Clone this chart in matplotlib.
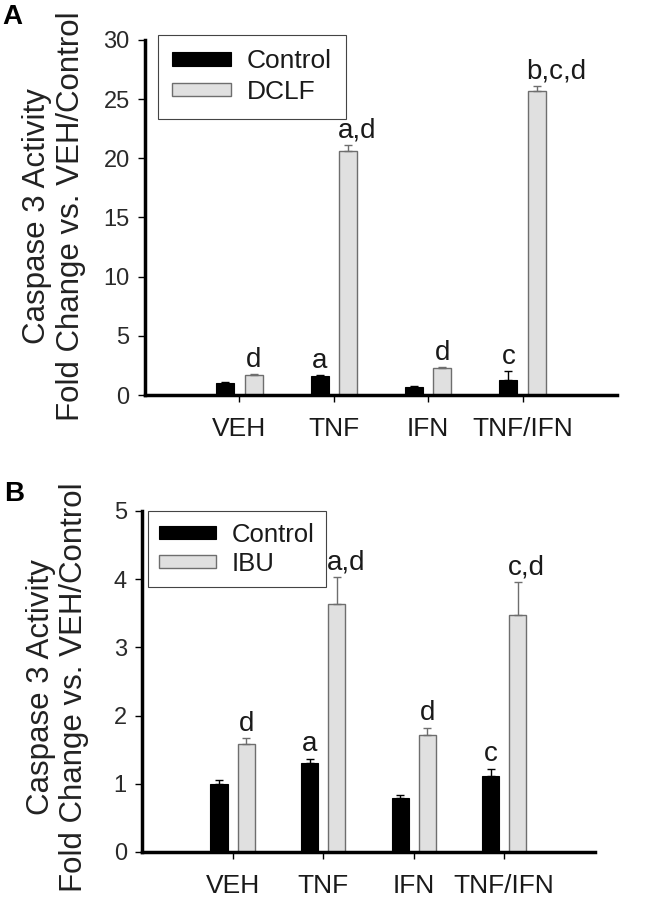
import matplotlib.pyplot as plt
import numpy as np

plt.rcParams['font.family'] = ['Liberation Sans', 'DejaVu Sans']

categories = ['VEH', 'TNF', 'IFN', 'TNF/IFN']

# panel A: DCLF
ctrl_a = [1.0, 1.6, 0.7, 1.3]
ctrl_a_err = [0.08, 0.1, 0.06, 0.7]
dclf_a = [1.7, 20.6, 2.3, 25.7]
dclf_a_err = [0.05, 0.5, 0.06, 0.4]
ctrl_a_lbl = ['', 'a', '', 'c']
dclf_a_lbl = ['d', 'a,d', 'd', 'b,c,d']

# panel B: IBU
ctrl_b = [1.0, 1.30, 0.79, 1.11]
ctrl_b_err = [0.05, 0.07, 0.04, 0.11]
ibu_b = [1.58, 3.63, 1.71, 3.47]
ibu_b_err = [0.09, 0.40, 0.11, 0.49]
ctrl_b_lbl = ['', 'a', '', 'c']
ibu_b_lbl = ['d', 'a,d', 'd', 'c,d']

grey = '#e0e0e0'
edge = '#6e6e6e'
txt = '#1a1a1a'


def draw_panel(ax, ctrl, ctrl_err, drug, drug_err, ctrl_lbl, drug_lbl, drug_name, ymax, step):
    x = np.arange(1, len(categories) + 1)
    w = 0.19
    off = 0.15
    zeros = np.zeros(len(x))
    ax.bar(x - off, ctrl, w, color='black', edgecolor='black', linewidth=0.8,
           yerr=[zeros, ctrl_err], error_kw=dict(ecolor='black', elinewidth=1, capsize=3, capthick=1),
           label='Control', zorder=2)
    ax.bar(x + off, drug, w, color=grey, edgecolor=edge, linewidth=1,
           yerr=[zeros, drug_err], error_kw=dict(ecolor=edge, elinewidth=1, capsize=3, capthick=1),
           label=drug_name, zorder=2)

    # significance letters
    for xi, v, e, s in zip(x - off, ctrl, ctrl_err, ctrl_lbl):
        if s:
            ax.annotate(s, (xi, v + e), xytext=(0, 1), textcoords='offset points',
                        ha='center', va='bottom', fontsize=20, color=txt)
    for xi, v, e, s in zip(x + off, drug, drug_err, drug_lbl):
        if s:
            if len(s) > 1:
                ax.annotate(s, (xi - w / 2, v + e), xytext=(-1, 1), textcoords='offset points',
                            ha='left', va='bottom', fontsize=20, color=txt)
            else:
                ax.annotate(s, (xi, v + e), xytext=(0, 1), textcoords='offset points',
                            ha='center', va='bottom', fontsize=20, color=txt)

    ax.set_xlim(0, 5)
    ax.set_ylim(0, ymax)
    ax.set_yticks(np.arange(0, ymax + step / 2, step))
    ax.set_xticks(x)
    ax.set_xticklabels(categories, fontsize=19, color=txt)
    ax.tick_params(axis='x', length=5, width=1, pad=11)
    ax.tick_params(axis='y', length=5, width=1, labelsize=17, labelcolor='#2a2a2a', pad=6)
    for s in ['top', 'right']:
        ax.spines[s].set_visible(False)
    ax.spines['left'].set_linewidth(2.5)
    ax.spines['bottom'].set_linewidth(2.5)


def add_legend(ax, anchor, fs, bpad, lspace):
    leg = ax.legend(loc='upper left', bbox_to_anchor=anchor, borderaxespad=0,
                    fontsize=fs, handlelength=2.2, handleheight=0.4, handletextpad=0.6,
                    fancybox=False, edgecolor='#444444', framealpha=1,
                    labelspacing=lspace, borderpad=bpad)
    leg.get_frame().set_linewidth(0.8)
    for t in leg.get_texts():
        t.set_color(txt)


fig = plt.figure(figsize=(6.6, 8.99), dpi=100)

ax_a = fig.add_axes([0.2197, 0.5606, 0.715, 0.395])
draw_panel(ax_a, ctrl_a, ctrl_a_err, dclf_a, dclf_a_err, ctrl_a_lbl, dclf_a_lbl, 'DCLF', 30, 5)
add_legend(ax_a, (0.0275, 1.014), 19, 0.55, 0.25)

ax_b = fig.add_axes([0.2152, 0.0523, 0.686, 0.3793])
draw_panel(ax_b, ctrl_b, ctrl_b_err, ibu_b, ibu_b_err, ctrl_b_lbl, ibu_b_lbl, 'IBU', 5, 1)
add_legend(ax_b, (0.013, 1.0), 18.5, 0.45, 0.2)

ylab = 'Caspase 3 Activity\nFold Change vs. VEH/Control'
fig.text(0.082, 0.760, ylab, rotation=90, ha='center', va='center', fontsize=22.5,
         linespacing=1.15, color='#222222')
fig.text(0.087, 0.236, ylab, rotation=90, ha='center', va='center', fontsize=22.5,
         linespacing=1.1, color='#222222')

fig.text(0.004, 0.995, 'A', fontsize=20, fontweight='bold', va='top', ha='left')
fig.text(0.006, 0.465, 'B', fontsize=20, fontweight='bold', va='top', ha='left')

fig.savefig('out.png', dpi=100)
